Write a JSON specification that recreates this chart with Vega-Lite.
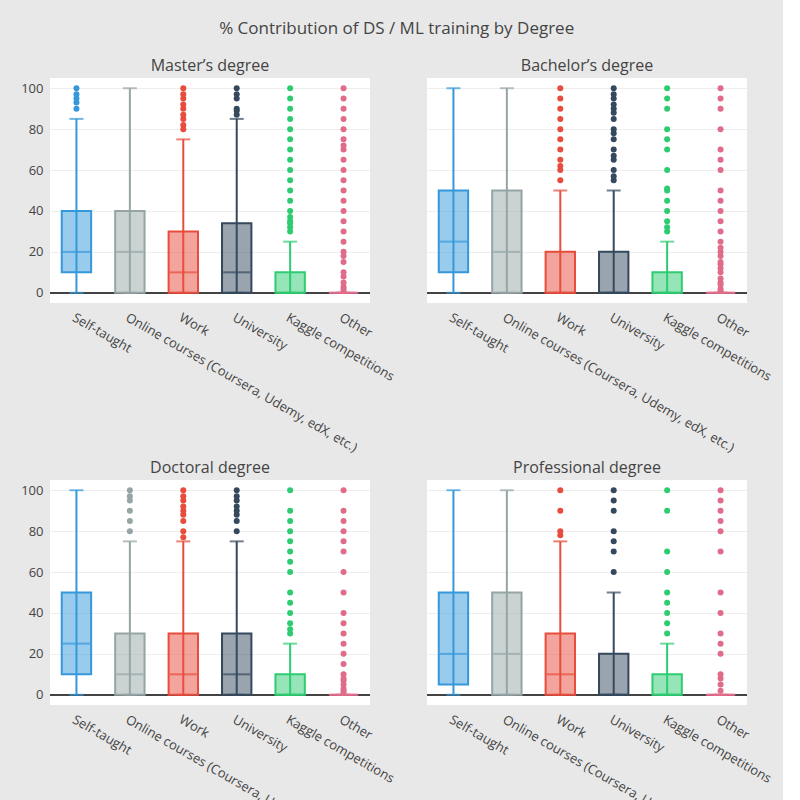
{
"$schema":"https://vega.github.io/schema/vega-lite/v6.json",
"background":"#e8e8e8",
"padding":{"left":20,"top":20,"right":10,"bottom":5},
"title":{"text":"% Contribution of DS / ML training by Degree","fontSize":17,"font":"Open Sans","fontWeight":"normal","color":"#444","anchor":"middle","offset":20},
"data":{"values":[
{"d":"M","c":"S","lo":0,"q1":10,"med":20,"q3":40,"hi":85},
{"d":"M","c":"On","lo":0,"q1":0,"med":20,"q3":40,"hi":100},
{"d":"M","c":"W","lo":0,"q1":0,"med":10,"q3":30,"hi":75},
{"d":"M","c":"U","lo":0,"q1":0,"med":10,"q3":34,"hi":85},
{"d":"M","c":"K","lo":0,"q1":0,"med":0,"q3":10,"hi":25},
{"d":"M","c":"O","lo":0,"q1":0,"med":0,"q3":0,"hi":0},
{"d":"B","c":"S","lo":0,"q1":10,"med":25,"q3":50,"hi":100},
{"d":"B","c":"On","lo":0,"q1":0,"med":20,"q3":50,"hi":100},
{"d":"B","c":"W","lo":0,"q1":0,"med":0,"q3":20,"hi":50},
{"d":"B","c":"U","lo":0,"q1":0,"med":0,"q3":20,"hi":50},
{"d":"B","c":"K","lo":0,"q1":0,"med":0,"q3":10,"hi":25},
{"d":"B","c":"O","lo":0,"q1":0,"med":0,"q3":0,"hi":0},
{"d":"D","c":"S","lo":0,"q1":10,"med":25,"q3":50,"hi":100},
{"d":"D","c":"On","lo":0,"q1":0,"med":10,"q3":30,"hi":75},
{"d":"D","c":"W","lo":0,"q1":0,"med":10,"q3":30,"hi":75},
{"d":"D","c":"U","lo":0,"q1":0,"med":10,"q3":30,"hi":75},
{"d":"D","c":"K","lo":0,"q1":0,"med":0,"q3":10,"hi":25},
{"d":"D","c":"O","lo":0,"q1":0,"med":0,"q3":0,"hi":0},
{"d":"P","c":"S","lo":0,"q1":5,"med":20,"q3":50,"hi":100},
{"d":"P","c":"On","lo":0,"q1":0,"med":20,"q3":50,"hi":100},
{"d":"P","c":"W","lo":0,"q1":0,"med":10,"q3":30,"hi":75},
{"d":"P","c":"U","lo":0,"q1":0,"med":0,"q3":20,"hi":50},
{"d":"P","c":"K","lo":0,"q1":0,"med":0,"q3":10,"hi":25},
{"d":"P","c":"O","lo":0,"q1":0,"med":0,"q3":0,"hi":0},
{"d":"M","c":"S","v":90},{"d":"M","c":"S","v":93},{"d":"M","c":"S","v":95},{"d":"M","c":"S","v":97},{"d":"M","c":"S","v":100},
{"d":"M","c":"W","v":80},{"d":"M","c":"W","v":82},{"d":"M","c":"W","v":85},{"d":"M","c":"W","v":87},{"d":"M","c":"W","v":90},{"d":"M","c":"W","v":92},{"d":"M","c":"W","v":95},{"d":"M","c":"W","v":97},{"d":"M","c":"W","v":100},
{"d":"M","c":"U","v":87},{"d":"M","c":"U","v":89},{"d":"M","c":"U","v":90},{"d":"M","c":"U","v":95},{"d":"M","c":"U","v":97},{"d":"M","c":"U","v":100},
{"d":"M","c":"K","v":30},{"d":"M","c":"K","v":32},{"d":"M","c":"K","v":34},{"d":"M","c":"K","v":35},{"d":"M","c":"K","v":37},{"d":"M","c":"K","v":40},{"d":"M","c":"K","v":45},{"d":"M","c":"K","v":50},{"d":"M","c":"K","v":55},{"d":"M","c":"K","v":60},{"d":"M","c":"K","v":65},{"d":"M","c":"K","v":70},{"d":"M","c":"K","v":75},{"d":"M","c":"K","v":80},{"d":"M","c":"K","v":85},{"d":"M","c":"K","v":90},{"d":"M","c":"K","v":95},{"d":"M","c":"K","v":100},
{"d":"M","c":"O","v":1},{"d":"M","c":"O","v":2},{"d":"M","c":"O","v":3},{"d":"M","c":"O","v":5},{"d":"M","c":"O","v":8},{"d":"M","c":"O","v":10},{"d":"M","c":"O","v":15},{"d":"M","c":"O","v":18},{"d":"M","c":"O","v":20},{"d":"M","c":"O","v":25},{"d":"M","c":"O","v":30},{"d":"M","c":"O","v":35},{"d":"M","c":"O","v":40},{"d":"M","c":"O","v":45},{"d":"M","c":"O","v":50},{"d":"M","c":"O","v":55},{"d":"M","c":"O","v":60},{"d":"M","c":"O","v":65},{"d":"M","c":"O","v":70},{"d":"M","c":"O","v":72},{"d":"M","c":"O","v":75},{"d":"M","c":"O","v":80},{"d":"M","c":"O","v":85},{"d":"M","c":"O","v":90},{"d":"M","c":"O","v":95},{"d":"M","c":"O","v":100},
{"d":"B","c":"W","v":55},{"d":"B","c":"W","v":60},{"d":"B","c":"W","v":62},{"d":"B","c":"W","v":65},{"d":"B","c":"W","v":70},{"d":"B","c":"W","v":75},{"d":"B","c":"W","v":80},{"d":"B","c":"W","v":85},{"d":"B","c":"W","v":90},{"d":"B","c":"W","v":95},{"d":"B","c":"W","v":100},
{"d":"B","c":"U","v":55},{"d":"B","c":"U","v":57},{"d":"B","c":"U","v":60},{"d":"B","c":"U","v":65},{"d":"B","c":"U","v":67},{"d":"B","c":"U","v":70},{"d":"B","c":"U","v":75},{"d":"B","c":"U","v":78},{"d":"B","c":"U","v":80},{"d":"B","c":"U","v":85},{"d":"B","c":"U","v":88},{"d":"B","c":"U","v":90},{"d":"B","c":"U","v":92},{"d":"B","c":"U","v":95},{"d":"B","c":"U","v":97},{"d":"B","c":"U","v":100},
{"d":"B","c":"K","v":30},{"d":"B","c":"K","v":32},{"d":"B","c":"K","v":35},{"d":"B","c":"K","v":40},{"d":"B","c":"K","v":45},{"d":"B","c":"K","v":50},{"d":"B","c":"K","v":51},{"d":"B","c":"K","v":60},{"d":"B","c":"K","v":70},{"d":"B","c":"K","v":75},{"d":"B","c":"K","v":80},{"d":"B","c":"K","v":90},{"d":"B","c":"K","v":95},{"d":"B","c":"K","v":100},
{"d":"B","c":"O","v":1},{"d":"B","c":"O","v":2},{"d":"B","c":"O","v":4},{"d":"B","c":"O","v":5},{"d":"B","c":"O","v":7},{"d":"B","c":"O","v":10},{"d":"B","c":"O","v":12},{"d":"B","c":"O","v":14},{"d":"B","c":"O","v":15},{"d":"B","c":"O","v":18},{"d":"B","c":"O","v":20},{"d":"B","c":"O","v":22},{"d":"B","c":"O","v":25},{"d":"B","c":"O","v":30},{"d":"B","c":"O","v":35},{"d":"B","c":"O","v":40},{"d":"B","c":"O","v":45},{"d":"B","c":"O","v":50},{"d":"B","c":"O","v":60},{"d":"B","c":"O","v":65},{"d":"B","c":"O","v":70},{"d":"B","c":"O","v":80},{"d":"B","c":"O","v":90},{"d":"B","c":"O","v":95},{"d":"B","c":"O","v":100},
{"d":"D","c":"On","v":80},{"d":"D","c":"On","v":85},{"d":"D","c":"On","v":90},{"d":"D","c":"On","v":95},{"d":"D","c":"On","v":97},{"d":"D","c":"On","v":100},
{"d":"D","c":"W","v":77},{"d":"D","c":"W","v":80},{"d":"D","c":"W","v":85},{"d":"D","c":"W","v":88},{"d":"D","c":"W","v":90},{"d":"D","c":"W","v":92},{"d":"D","c":"W","v":95},{"d":"D","c":"W","v":97},{"d":"D","c":"W","v":100},
{"d":"D","c":"U","v":80},{"d":"D","c":"U","v":85},{"d":"D","c":"U","v":88},{"d":"D","c":"U","v":90},{"d":"D","c":"U","v":92},{"d":"D","c":"U","v":95},{"d":"D","c":"U","v":97},{"d":"D","c":"U","v":100},
{"d":"D","c":"K","v":30},{"d":"D","c":"K","v":32},{"d":"D","c":"K","v":35},{"d":"D","c":"K","v":40},{"d":"D","c":"K","v":45},{"d":"D","c":"K","v":50},{"d":"D","c":"K","v":60},{"d":"D","c":"K","v":65},{"d":"D","c":"K","v":70},{"d":"D","c":"K","v":75},{"d":"D","c":"K","v":80},{"d":"D","c":"K","v":85},{"d":"D","c":"K","v":90},{"d":"D","c":"K","v":100},
{"d":"D","c":"O","v":1},{"d":"D","c":"O","v":2},{"d":"D","c":"O","v":3},{"d":"D","c":"O","v":5},{"d":"D","c":"O","v":7},{"d":"D","c":"O","v":8},{"d":"D","c":"O","v":10},{"d":"D","c":"O","v":15},{"d":"D","c":"O","v":20},{"d":"D","c":"O","v":25},{"d":"D","c":"O","v":30},{"d":"D","c":"O","v":35},{"d":"D","c":"O","v":40},{"d":"D","c":"O","v":50},{"d":"D","c":"O","v":60},{"d":"D","c":"O","v":70},{"d":"D","c":"O","v":75},{"d":"D","c":"O","v":80},{"d":"D","c":"O","v":85},{"d":"D","c":"O","v":90},{"d":"D","c":"O","v":100},
{"d":"P","c":"W","v":78},{"d":"P","c":"W","v":80},{"d":"P","c":"W","v":90},{"d":"P","c":"W","v":100},
{"d":"P","c":"U","v":60},{"d":"P","c":"U","v":70},{"d":"P","c":"U","v":75},{"d":"P","c":"U","v":80},{"d":"P","c":"U","v":90},{"d":"P","c":"U","v":95},{"d":"P","c":"U","v":100},
{"d":"P","c":"K","v":30},{"d":"P","c":"K","v":35},{"d":"P","c":"K","v":40},{"d":"P","c":"K","v":45},{"d":"P","c":"K","v":50},{"d":"P","c":"K","v":60},{"d":"P","c":"K","v":70},{"d":"P","c":"K","v":90},{"d":"P","c":"K","v":100},
{"d":"P","c":"O","v":2},{"d":"P","c":"O","v":5},{"d":"P","c":"O","v":8},{"d":"P","c":"O","v":10},{"d":"P","c":"O","v":20},{"d":"P","c":"O","v":25},{"d":"P","c":"O","v":30},{"d":"P","c":"O","v":40},{"d":"P","c":"O","v":50},{"d":"P","c":"O","v":70},{"d":"P","c":"O","v":80},{"d":"P","c":"O","v":85},{"d":"P","c":"O","v":90},{"d":"P","c":"O","v":95},{"d":"P","c":"O","v":100}
]},
"facet":{"field":"d","type":"nominal","sort":["M","B","D","P"],"title":null,
 "header":{"labelExpr":"{'M':'Master’s degree','B':'Bachelor’s degree','D':'Doctoral degree','P':'Professional degree'}[datum.value]","labelFontSize":16,"labelFont":"Open Sans","labelColor":"#444","labelPadding":4}},
"columns":2,
"spacing":{"row":5,"column":30},
"resolve":{"scale":{"x":"independent"},"axis":{"x":"independent"}},
"spec":{
 "width":320,"height":225,
 "encoding":{
  "x":{"field":"c","type":"nominal","sort":["S","On","W","U","K","O"],"title":null,"scale":{"paddingInner":0.45,"paddingOuter":0.22},
   "axis":{"labelAngle":30,"labelAlign":"left","labelBaseline":"top","labelLimit":300,"labelFontSize":13,"labelFont":"Open Sans","labelColor":"#444","ticks":false,"domain":false,"labelPadding":8,
    "labelExpr":"{'S':'Self-taught','On':'Online courses (Coursera, Udemy, edX, etc.)','W':'Work','U':'University','K':'Kaggle competitions','O':'Other'}[datum.value]"}},
  "color":{"field":"c","type":"nominal","legend":null,"scale":{"domain":["S","On","W","U","K","O"],"range":["#3498db","#95a5a6","#e74c3c","#34495e","#2ecc71","#e06c8a"]}}
 },
 "layer":[
  {"mark":{"type":"rule","color":"#444","strokeWidth":1},"encoding":{"y":{"datum":0,"type":"quantitative"},"x":null,"color":null}},
  {"transform":[{"filter":"isValid(datum.q1)"}],"mark":{"type":"rule","strokeWidth":2},
   "encoding":{"y":{"field":"lo","type":"quantitative","scale":{"domain":[-5,105],"nice":false},"title":null,
     "axis":{"values":[0,20,40,60,80,100],"grid":true,"gridColor":"#eeeeee","domain":false,"ticks":false,"labelFontSize":13,"labelFont":"Open Sans","labelColor":"#444","labelPadding":6}},
    "y2":{"field":"hi"}}},
  {"transform":[{"filter":"isValid(datum.q1)"}],"mark":{"type":"tick","thickness":2,"size":14},"encoding":{"y":{"field":"lo","type":"quantitative"}}},
  {"transform":[{"filter":"isValid(datum.q1)"}],"mark":{"type":"tick","thickness":2,"size":14},"encoding":{"y":{"field":"hi","type":"quantitative"}}},
  {"transform":[{"filter":"isValid(datum.q1)"}],"mark":{"type":"bar","fillOpacity":0.5,"strokeWidth":2},
   "encoding":{"y":{"field":"q1","type":"quantitative"},"y2":{"field":"q3"},"stroke":{"field":"c","type":"nominal","legend":null,"scale":{"domain":["S","On","W","U","K","O"],"range":["#3498db","#95a5a6","#e74c3c","#34495e","#2ecc71","#e06c8a"]}}}},
  {"transform":[{"filter":"isValid(datum.q1)"}],"mark":{"type":"tick","thickness":2,"size":27},"encoding":{"y":{"field":"med","type":"quantitative"}}},
  {"transform":[{"filter":"isValid(datum.v)"}],"mark":{"type":"circle","size":36,"opacity":1},"encoding":{"y":{"field":"v","type":"quantitative"}}}
 ]
},
"config":{"view":{"fill":"white","stroke":null}}
}
